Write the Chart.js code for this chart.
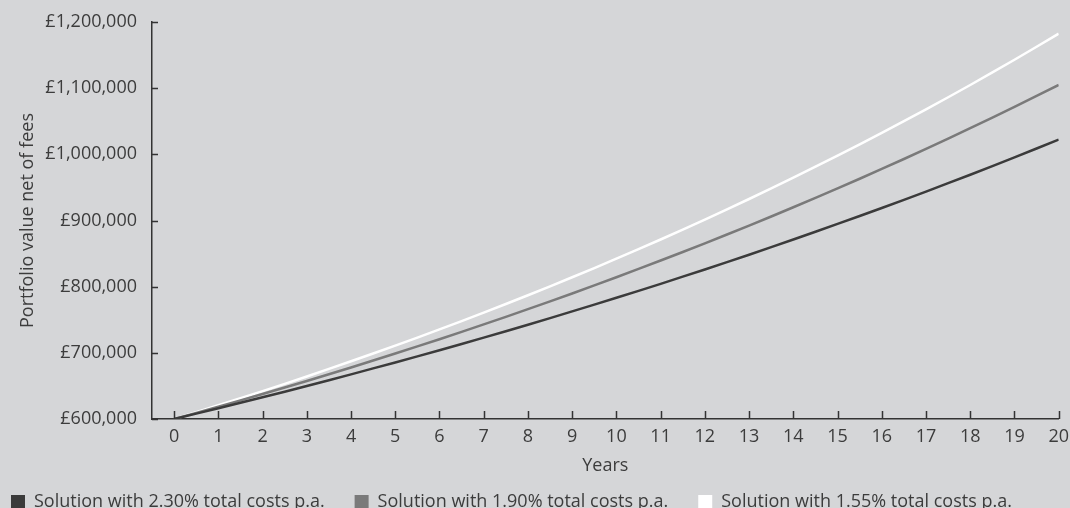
<!DOCTYPE html>
<html>
<head>
<meta charset="utf-8">
<script src="https://cdn.jsdelivr.net/npm/chart.js@4/dist/chart.umd.min.js"></script>
<style>
  html, body { margin: 0; padding: 0; overflow: hidden; background: #d5d6d8; }
  #wrap { position: absolute; left: -19px; top: 0; width: 1095px; height: 521px; }
</style>
</head>
<body>
<div id="wrap"><canvas id="feesChart"></canvas></div>
<script>
// Values
const years = [0, 1, 2, 3, 4, 5, 6, 7, 8, 9, 10, 11, 12, 13, 14, 15, 16, 17, 18, 19, 20];
const costs230 = [600000, 616200, 632800, 649900, 667500, 685500, 704000, 723000, 742500, 762600, 783200,
  804300, 826000, 848300, 871200, 894800, 918900, 943700, 969200, 995400, 1022300];
const costs190 = [600000, 618600, 637800, 657500, 677900, 698900, 720600, 743000, 766000, 789700, 814200,
  839500, 865500, 892300, 920000, 948500, 977900, 1008200, 1039500, 1071700, 1104900];
const costs155 = [600000, 620700, 642100, 664300, 687200, 710900, 735400, 760800, 787000, 814200, 842300,
  871300, 901400, 932500, 964700, 998000, 1032400, 1068000, 1104800, 1143000, 1182400];
const seriesNames = [
  'Solution with 2.30% total costs p.a.',
  'Solution with 1.90% total costs p.a.',
  'Solution with 1.55% total costs p.a.'
];
const yTicks = [600000, 700000, 800000, 900000, 1000000, 1100000, 1200000];

const textColor = '#3c3c3c';
Chart.defaults.font.family = "'Open Sans', sans-serif";
Chart.defaults.font.size = 18;
Chart.defaults.color = textColor;

// tick marks pointing into the plot, like the original
const innerTicks = {
  id: 'innerTicks',
  afterDraw(chart) {
    const { ctx, chartArea, scales: { x, y } } = chart;
    ctx.save();
    ctx.strokeStyle = '#333';
    ctx.lineWidth = 1.5;
    ctx.beginPath();
    y.ticks.forEach(t => {
      const py = Math.round(y.getPixelForValue(t.value)) + 0.5;
      ctx.moveTo(chartArea.left, py);
      ctx.lineTo(chartArea.left + 6, py);
    });
    x.ticks.forEach(t => {
      const px = Math.round(x.getPixelForValue(t.value)) + 0.5;
      ctx.moveTo(px, chartArea.bottom);
      ctx.lineTo(px, chartArea.bottom - 8);
    });
    ctx.stroke();
    ctx.restore();
  }
};

const line = (label, data, color) => ({
  label: label,
  data: data,
  borderColor: color,
  backgroundColor: color,
  borderWidth: 2.5,
  pointRadius: 0,
  tension: 0.3
});

const ctx = document.getElementById('feesChart').getContext('2d');
const feesChart = new Chart(ctx, {
  type: 'line',
  data: {
    labels: years,
    datasets: [
      line(seriesNames[0], costs230, '#3b3b3b'),
      line(seriesNames[1], costs190, '#7a7a7a'),
      line(seriesNames[2], costs155, '#ffffff')
    ]
  },
  options: {
    responsive: true,
    maintainAspectRatio: false,
    animation: false,
    devicePixelRatio: 1,
    layout: { padding: { left: 0, right: 0, top: 22, bottom: 0 } },
    plugins: {
      tooltip: { enabled: false },
      legend: {
        position: 'bottom',
        align: 'start',
        labels: {
          boxWidth: 14,
          boxHeight: 14,
          padding: 30,
          color: textColor,
          generateLabels(chart) {
            return Chart.defaults.plugins.legend.labels.generateLabels(chart)
              .map(l => Object.assign(l, { fillStyle: l.strokeStyle, lineWidth: 0 }));
          }
        }
      }
    },
    scales: {
      x: {
        type: 'linear',
        min: -0.5,
        max: 20,
        grid: { display: false, drawTicks: false },
        border: { display: true, color: '#333', width: 1.5 },
        ticks: { padding: 7, color: textColor },
        afterBuildTicks(scale) { scale.ticks = years.map(v => ({ value: v })); },
        afterFit(scale) { scale.height = 44; },
        title: { display: true, text: 'Years', color: textColor, padding: { top: 0, bottom: -14 } }
      },
      y: {
        min: 600000,
        max: 1200000,
        grid: { display: false, drawTicks: false },
        border: { display: true, color: '#333', width: 1.5 },
        ticks: {
          padding: 15,
          color: textColor,
          callback: v => '£' + v.toLocaleString('en-GB')
        },
        afterBuildTicks(scale) { scale.ticks = yTicks.map(v => ({ value: v })); },
        afterFit(scale) {
          scale.width = 171;
          scale.paddingTop = 0;
          scale.paddingBottom = 0;
        },
        title: { display: true, text: 'Portfolio value net of fees', color: textColor, padding: { top: 36, bottom: 0 } }
      }
    }
  },
  plugins: [innerTicks]
});
</script>
</body>
</html>
